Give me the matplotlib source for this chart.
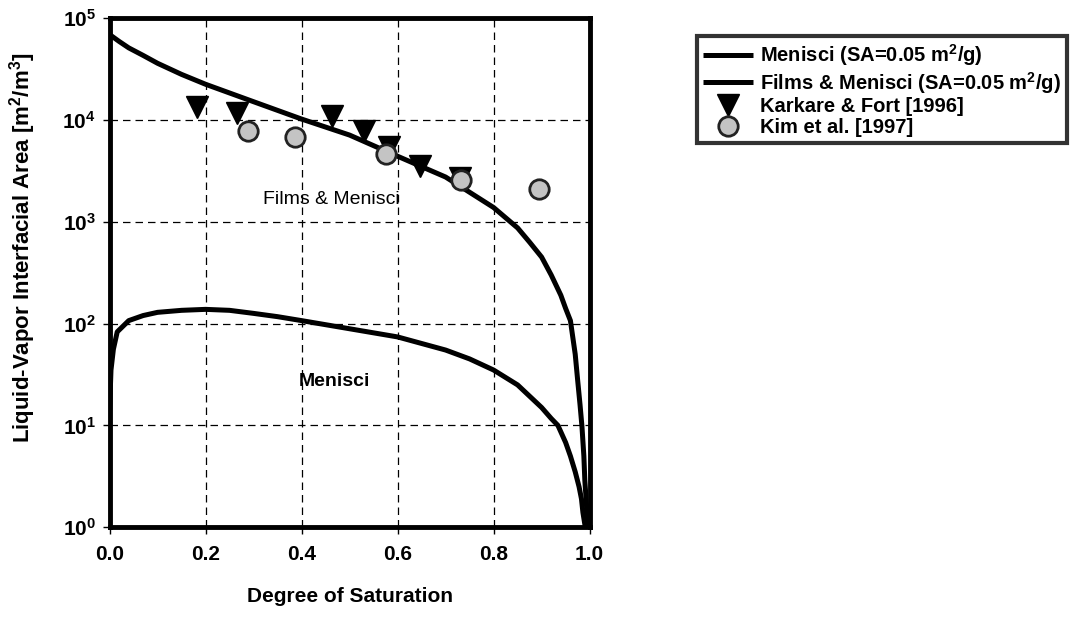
import matplotlib
matplotlib.use("Agg")
import matplotlib.pyplot as plt
from matplotlib.ticker import FixedLocator, NullLocator

# --- data ---
films_sat = [0.0, 0.02, 0.04, 0.07, 0.10, 0.15, 0.20, 0.30, 0.40, 0.50, 0.60,
             0.70, 0.80, 0.85, 0.875, 0.90, 0.92, 0.94, 0.95, 0.96, 0.97,
             0.975, 0.98, 0.984, 0.988, 0.99, 0.993, 0.996]
films_area = [69000, 59000, 51000, 43000, 36000, 28000, 22400, 15100, 10200, 7100, 4400,
              2750, 1380, 870, 630, 450, 300, 190, 141, 107, 50,
              28, 16, 9.8, 5.0, 2.9, 1.8, 1.0]

menisci_sat = [0.0, 0.003, 0.008, 0.016, 0.04, 0.07, 0.10, 0.15, 0.20, 0.25, 0.30, 0.35,
               0.40, 0.50, 0.60, 0.70, 0.75, 0.80, 0.85, 0.90, 0.92, 0.934, 0.95,
               0.96, 0.97, 0.978, 0.983, 0.986, 0.991]
menisci_area = [14, 35, 56, 83, 107, 120, 129, 135, 138, 135, 126, 117,
                107, 89, 74, 55, 45, 35, 25, 15, 11.7, 10, 6.8,
                5.0, 3.5, 2.5, 1.9, 1.4, 1.0]

karkare_sat = [0.182, 0.265, 0.463, 0.531, 0.582, 0.647, 0.729]
karkare_area = [13300, 11600, 11000, 7800, 5400, 3500, 2700]

kim_sat = [0.288, 0.387, 0.576, 0.733, 0.894]
kim_area = [7800, 6800, 4600, 2600, 2100]

x_ticks = [0.0, 0.2, 0.4, 0.6, 0.8, 1.0]
x_tick_labels = ["0.0", "0.2", "0.4", "0.6", "0.8", "1.0"]
y_ticks = [1, 10, 100, 1000, 10000, 100000]

plt.rcParams['font.family'] = ['Liberation Sans', 'DejaVu Sans']
plt.rcParams['mathtext.default'] = 'regular'

fig = plt.figure(figsize=(10.74, 6.24), dpi=100)
ax = fig.add_axes([0.102, 0.155, 0.447, 0.816])

ax.plot(menisci_sat, menisci_area, color='black', lw=3.6, solid_capstyle='butt',
        label='Menisci (SA=0.05 m$^2$/g)', zorder=3)
ax.plot(films_sat, films_area, color='black', lw=3.6, solid_capstyle='butt',
        label='Films & Menisci (SA=0.05 m$^2$/g)', zorder=3)
ax.plot(karkare_sat, karkare_area, linestyle='none', marker='v', ms=16,
        color='black', label='Karkare & Fort [1996]', zorder=4)
ax.plot(kim_sat, kim_area, linestyle='none', marker='o', ms=14, mfc='#c4c4c4',
        mec='#222222', mew=2, label='Kim et al. [1997]', zorder=5)

ax.set_yscale('log')
ax.set_xlim(0, 1)
ax.set_ylim(1, 1e5)
ax.xaxis.set_major_locator(FixedLocator(x_ticks))
ax.set_xticklabels(x_tick_labels)
ax.yaxis.set_major_locator(FixedLocator(y_ticks))
ax.yaxis.set_minor_locator(NullLocator())

ax.grid(True, which='major', color='black', linestyle=(0, (6, 4)), linewidth=0.9)
for spine in ax.spines.values():
    spine.set_linewidth(3.5)

ax.tick_params(axis='x', which='major', direction='out', length=5, width=1,
               labelsize=15, pad=8)
ax.tick_params(axis='y', which='major', direction='out', length=5, width=1,
               labelsize=15, pad=5)
for lab in ax.get_xticklabels() + ax.get_yticklabels():
    lab.set_fontweight('bold')

ax.set_xlabel('Degree of Saturation', fontsize=15, fontweight='bold', labelpad=16)
ax.set_ylabel('Liquid-Vapor Interfacial Area [m$^2$/m$^3$]', fontsize=16,
              fontweight='bold')
ax.yaxis.set_label_coords(-0.15, 0.55)

ax.text(0.462, 1660, 'Films & Menisci', fontsize=14, ha='center', va='center')
ax.text(0.469, 27, 'Menisci', fontsize=14, fontweight='bold', ha='center', va='center')

leg = fig.legend(loc='upper left', bbox_to_anchor=(0.649, 0.942), borderaxespad=0,
                 frameon=True, fancybox=False, borderpad=0.3, handlelength=2.5,
                 handletextpad=0.35, labelspacing=0.08,
                 prop={'family': ['Liberation Sans Narrow', 'Liberation Sans'],
                       'weight': 'bold', 'size': 14.5})
leg.get_frame().set_edgecolor('black')
leg.get_frame().set_linewidth(3)

fig.savefig('out.png', dpi=100)
